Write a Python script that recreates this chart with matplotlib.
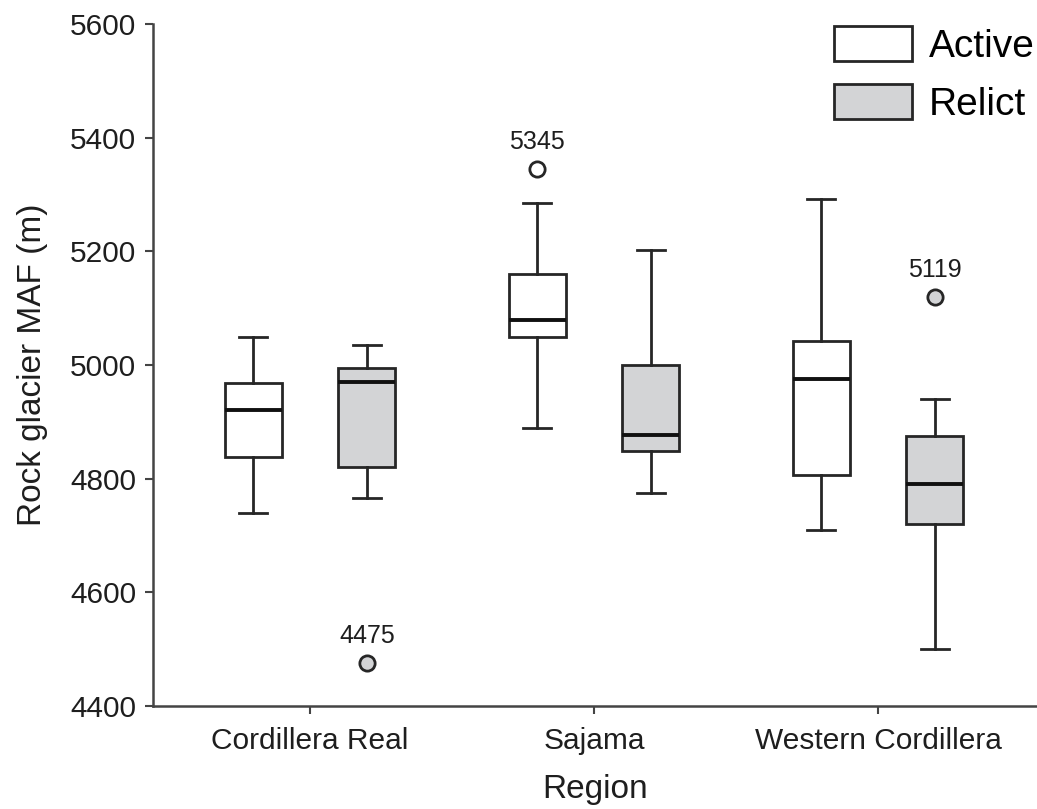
import matplotlib
matplotlib.use('Agg')
import matplotlib.pyplot as plt
from matplotlib.patches import Patch
import numpy as np

plt.rcParams['font.family'] = ['Liberation Sans', 'DejaVu Sans']

# Box summary values (m)
regions = ['Cordillera Real', 'Sajama', 'Western Cordillera']
active_low = [4740, 4890, 4710]
active_q1 = [4838, 5049, 4806]
active_med = [4920, 5080, 4975]
active_q3 = [4968, 5160, 5043]
active_high = [5050, 5285, 5293]
active_out = [[], [5345], []]

relict_low = [4766, 4774, 4500]
relict_q1 = [4820, 4848, 4721]
relict_med = [4970, 4876, 4790]
relict_q3 = [4995, 5000, 4875]
relict_high = [5035, 5202, 4940]
relict_out = [[4475], [], [5119]]

edge = '#262626'
grey = '#d3d4d6'
lw = 2.0


def make_stats(low, q1, med, q3, high, out):
    return [dict(whislo=a, q1=b, med=c, q3=d, whishi=e, fliers=f)
            for a, b, c, d, e, f in zip(low, q1, med, q3, high, out)]


fig = plt.figure(figsize=(10.37, 8.09), dpi=100)
ax = fig.add_axes([0.1475, 0.1273, 0.8525, 0.843])

x = np.arange(len(regions))
off = 0.2

groups = [
    (make_stats(active_low, active_q1, active_med, active_q3, active_high, active_out), 'white', x - off),
    (make_stats(relict_low, relict_q1, relict_med, relict_q3, relict_high, relict_out), grey, x + off),
]
for stats, fc, pos in groups:
    ax.bxp(stats, positions=pos, widths=0.2, capwidths=0.1, patch_artist=True,
           boxprops=dict(facecolor=fc, edgecolor=edge, linewidth=lw),
           whiskerprops=dict(color=edge, linewidth=lw),
           capprops=dict(color=edge, linewidth=lw),
           medianprops=dict(color='#111111', linewidth=2.8),
           flierprops=dict(marker='o', markersize=11, markerfacecolor=fc,
                           markeredgecolor=edge, markeredgewidth=2.0))
    for p, s in zip(pos, stats):
        for v in s['fliers']:
            ax.annotate(f'{v}', (p, v), xytext=(0, 11), textcoords='offset points',
                        ha='center', va='bottom', fontsize=18, color='#1e1e1e')

ax.set_xlim(-0.553, 2.56)
ax.set_ylim(4400, 5600)
ax.set_yticks(np.arange(4400, 5601, 200))
ax.set_xticks(x)
ax.set_xticklabels(regions)
ax.tick_params(labelsize=21.5, colors='#444444', labelcolor='#1e1e1e', width=1.5, length=6, pad=6)
ax.tick_params(axis='x', pad=9)
for side in ['top', 'right']:
    ax.spines[side].set_visible(False)
for side in ['left', 'bottom']:
    ax.spines[side].set_color('#444444')
    ax.spines[side].set_linewidth(1.8)

ax.set_xlabel('Region', fontsize=24, color='#1e1e1e', labelpad=14)
ax.set_ylabel('Rock glacier MAF (m)', fontsize=24, color='#1e1e1e', labelpad=16)

handles = [Patch(facecolor='white', edgecolor=edge, linewidth=lw, label='Active'),
           Patch(facecolor=grey, edgecolor=edge, linewidth=lw, label='Relict')]
ax.legend(handles=handles, loc='upper right', bbox_to_anchor=(1.0, 1.0), frameon=False,
          fontsize=28, handlelength=2.0, handleheight=1.0, labelspacing=0.5,
          handletextpad=0.45, borderaxespad=0.0, borderpad=0.05)

fig.savefig('out.png', dpi=100)
